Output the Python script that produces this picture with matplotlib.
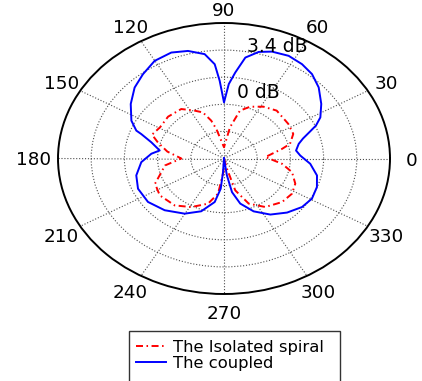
import numpy as np
import matplotlib
matplotlib.use("Agg")
import matplotlib.pyplot as plt
from matplotlib.patches import Rectangle

# ---- data (angles in degrees, radius normalised to outer ring = 1) ----
coupled_theta = [-90, -82, -79, -73.6, -65.4, -56, -46.4, -37.3, -29.2, -20.6, -12.6,
                 -4.3, 2.7, 7.7, 13.5, 17.2, 21.0, 23.7, 27.6, 34.5, 42.6, 49.6, 56.0,
                 62.8, 69.9, 75.1, 80.2, 83.9, 87.0, 90.0, 92.6, 94.6, 98.6, 105.3,
                 112.1, 120.1, 128.1, 135.8, 144.4, 153.4, 158.7, 160.1, 164.7, 171.3,
                 175.4, 183.1, 193.3, 203.3, 215.0, 226.9, 239.8, 250.6, 260.1, 264.9,
                 266.6, 270]
coupled_r = [0.0, 0.126, 0.253, 0.347, 0.429, 0.499, 0.551, 0.591, 0.607, 0.598, 0.574,
             0.521, 0.460, 0.438, 0.463, 0.498, 0.555, 0.605, 0.655, 0.711, 0.775, 0.818,
             0.840, 0.852, 0.840, 0.814, 0.756, 0.638, 0.550, 0.414, 0.574, 0.698, 0.779,
             0.823, 0.844, 0.833, 0.791, 0.751, 0.691, 0.624, 0.567, 0.530, 0.454, 0.392,
             0.439, 0.499, 0.543, 0.564, 0.559, 0.523, 0.471, 0.413, 0.326, 0.224,
             0.101, 0.0]

isolated_theta = [-90, -76.7, -73.9, -65.9, -55.2, -42.6, -32.4, -23.4, -13.8, -6.4, 2.5,
                  11.5, 15.2, 23.5, 33.4, 48.1, 58.2, 67.7, 74.8, 81.1, 90, 102.0, 105.4,
                  110.5, 116.6, 125.2, 137.5, 149.2, 157.9, 163.5, 171.5, 180, 188.2,
                  204.1, 215.1, 229.4, 241.2, 253.9, 262.1, 268, 270]
isolated_r = [0.0, 0.078, 0.245, 0.365, 0.436, 0.475, 0.485, 0.468, 0.422, 0.352, 0.250,
              0.357, 0.412, 0.455, 0.464, 0.475, 0.450, 0.413, 0.366, 0.233, 0.083, 0.223,
              0.290, 0.363, 0.395, 0.447, 0.457, 0.449, 0.468, 0.415, 0.345, 0.257, 0.359,
              0.455, 0.473, 0.456, 0.409, 0.347, 0.262, 0.10, 0.0]

angle_ticks = [0, 30, 60, 90, 120, 150, 180, 210, 240, 270, 300, 330]
angle_labels = [str(a) for a in angle_ticks]
ring_values = [0.2, 0.4, 0.6, 0.8]
ring_labels = {0.456: "0 dB", 0.799: "3.4 dB"}
series_labels = ["The Isolated spiral", "The coupled"]

# ---- figure ----
W, H = 422, 381
fig = plt.figure(figsize=(W / 100, H / 100), dpi=100)
ax = fig.add_axes([58 / W, (H - 294) / H, 332 / W, 271 / H], projection="polar")
ax.set_aspect("auto")
ax.set_ylim(0, 1)
ax.set_yticks(ring_values)
ax.set_yticklabels([])
ax.set_xticks(np.deg2rad(angle_ticks))
ax.set_xticklabels([])
ax.grid(True, color="0.3", linestyle=":", linewidth=0.8)
ax.spines["polar"].set_linewidth(1.4)
ax.spines["polar"].set_color("black")

l_iso, = ax.plot(np.deg2rad(isolated_theta), isolated_r, color="red", lw=1.4,
                 linestyle=(0, (3.6, 1.8, 0.8, 1.8)), label=series_labels[0])
l_cpl, = ax.plot(np.deg2rad(coupled_theta), coupled_r, color="blue", lw=1.4,
                 label=series_labels[1])

for a, lab in zip(angle_ticks, angle_labels):
    rr = 1.105 if a == 90 else (1.15 if a == 180 else 1.13)
    ax.text(np.deg2rad(a), rr, lab, ha="center", va="center_baseline",
            fontsize=13.2, clip_on=False)

for r, lab in ring_labels.items():
    ax.text(np.deg2rad(80), r, lab, ha="left", va="baseline", fontsize=13.5)

fig.legend(handles=[l_iso, l_cpl], labels=series_labels, loc="upper left",
           bbox_to_anchor=(136 / W, (H - 340) / H), frameon=False, fontsize=11.8,
           handlelength=1.83, handletextpad=0.4, labelspacing=0.05,
           borderpad=0, borderaxespad=0)
fig.patches.append(Rectangle((129 / W, -14 / H), 211 / W, (H - 331 + 14) / H,
                             transform=fig.transFigure, fill=False,
                             edgecolor="0.2", lw=1.0, clip_on=False))

fig.savefig("out.png", dpi=100)
